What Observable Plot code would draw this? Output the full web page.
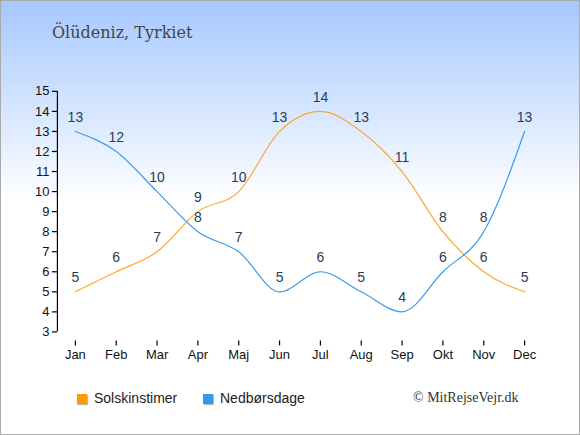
<!DOCTYPE html>
<html>
<head>
<meta charset="utf-8">
<script src="https://cdn.jsdelivr.net/npm/d3@7"></script>
<script src="https://cdn.jsdelivr.net/npm/@observablehq/plot@0.6"></script>
<style>
  html, body { margin: 0; padding: 0; background: #fff; }
  #wrap {
    position: relative; width: 578px; height: 433px;
    border: 1px solid #aaa;
    background: linear-gradient(to bottom, #a6c8ff 0px, #d6e6ff 110px, #ffffff 200px, #ffffff 100%);
    overflow: hidden;
  }
  #title {
    position: absolute; left: 51px; top: 22px;
    font-family: "DejaVu Serif", "Liberation Serif", serif; font-size: 16px; color: #444;
  }
  #chart { position: absolute; left: -1px; top: -1px; }
  .leg { position: absolute; top: 389px; font-family: "Liberation Sans", Arial, sans-serif; font-size: 14px; color: #222; }
  .sw { display: inline-block; width: 10px; height: 10px; margin-right: 7px; vertical-align: -1px; box-shadow: 1px 1px 1px #bbb; }
  #credit { position: absolute; left: 412px; top: 389px; font-family: "Liberation Serif", "DejaVu Serif", serif; font-size: 14px; color: #333; }
</style>
</head>
<body>
<div id="wrap">
  <div id="title">Ölüdeniz, Tyrkiet</div>
  <div id="chart"></div>
  <div class="leg" style="left:76px"><span class="sw" style="background:#ff9900"></span>Solskinstimer</div>
  <div class="leg" style="left:202px"><span class="sw" style="background:#3399ee"></span>Nedbørsdage</div>
  <div id="credit">© MitRejseVejr.dk</div>
</div>
<script>
const months = ["Jan","Feb","Mar","Apr","Maj","Jun","Jul","Aug","Sep","Okt","Nov","Dec"];
const sunHours = [5,6,7,9,10,13,14,13,11,8,6,5];
const rainDays = [13,12,10,8,7,5,6,5,4,6,8,13];
const yTicks = [3,4,5,6,7,8,9,10,11,12,13,14,15];
const sunColor = "#ffa630";
const rainColor = "#3d9be9";

const sun = months.map((m, i) => ({month: m, value: sunHours[i]}));
const rain = months.map((m, i) => ({month: m, value: rainDays[i]}));

const chart = Plot.plot({
  width: 580,
  height: 375,
  marginLeft: 75,
  marginRight: 55,
  marginTop: 91,
  marginBottom: 43,
  style: {background: "transparent", fontFamily: "Liberation Sans, Arial, sans-serif", fontSize: "13px", color: "#222"},
  x: {type: "point", domain: months, padding: 0, round: false},
  y: {domain: [3, 15]},
  marks: [
    Plot.ruleX([months[0]], {y1: 3, y2: 15, dx: -18, stroke: "#000", strokeWidth: 1.2}),
    Plot.ruleY([3], {x1: months[0], x2: months[months.length - 1], dy: 9, stroke: "#000", strokeWidth: 1.2}),
    Plot.axisY({ticks: yTicks, tickFormat: d => d, tickSize: 5, tickPadding: 3, dx: -18, label: null, stroke: "#000", strokeWidth: 1.2, fill: "#111", fontSize: 13}),
    Plot.axisX({tickSize: 5, tickPadding: 4, dy: 9, label: null, stroke: "#000", strokeWidth: 1.2, fill: "#111", fontSize: 13}),
    Plot.line(sun, {x: "month", y: "value", stroke: sunColor, strokeWidth: 1.2, curve: "monotone-x"}),
    Plot.line(rain, {x: "month", y: "value", stroke: rainColor, strokeWidth: 1.2, curve: "monotone-x"}),
    Plot.text(sun, {x: "month", y: "value", text: d => String(d.value), dy: -14, fill: "#2b3a58", fontSize: 14}),
    Plot.text(rain, {x: "month", y: "value", text: d => String(d.value), dy: -14, fill: "#2b3a58", fontSize: 14})
  ]
});
document.getElementById("chart").appendChild(chart);
</script>
</body>
</html>
